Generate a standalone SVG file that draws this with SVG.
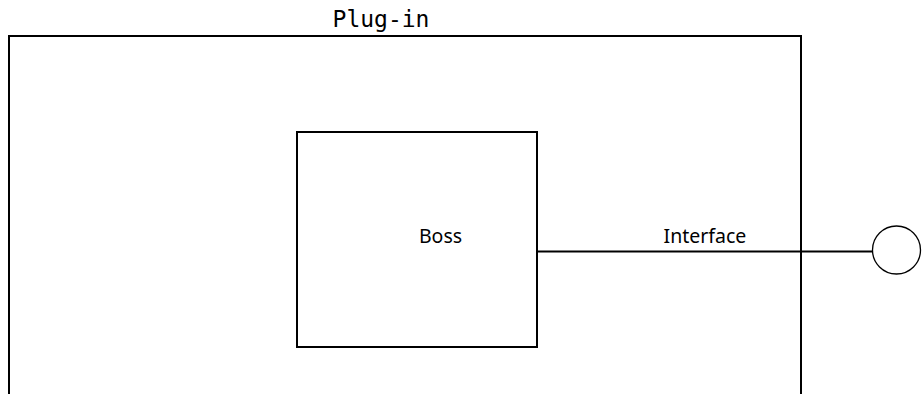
<svg xmlns="http://www.w3.org/2000/svg" width="922" height="394" viewBox="0 0 922 394">
  <style>
    .frame { fill: none; stroke: #000; stroke-width: 2; }
    .wire { fill: none; stroke: #000; stroke-width: 2; }
    .port { fill: #fff; stroke: #000; stroke-width: 1.3; }
    .mono { font-family: "DejaVu Sans Mono", "Liberation Mono", monospace; font-size: 23px; fill: #000; }
    .label { font-family: "Noto Sans", "Open Sans", sans-serif; font-size: 19.5px; fill: #000; }
  </style>
  <g id="plugin">
    <polyline class="frame" points="9,394 9,36 801,36 801,394"/>
    <text class="mono" x="381" y="27" text-anchor="middle">Plug-in</text>
  </g>
  <g id="connectors">
    <line class="wire" x1="537" y1="251.5" x2="873" y2="251.5"/>
    <text class="label" x="705" y="243" text-anchor="middle">Interface</text>
  </g>
  <g id="boss">
    <rect class="frame" x="297" y="132" width="240" height="215"/>
    <text class="label" x="440.5" y="243" text-anchor="middle">Boss</text>
  </g>
  <g id="interface-port">
    <circle class="port" cx="896.5" cy="250" r="24"/>
  </g>
</svg>
